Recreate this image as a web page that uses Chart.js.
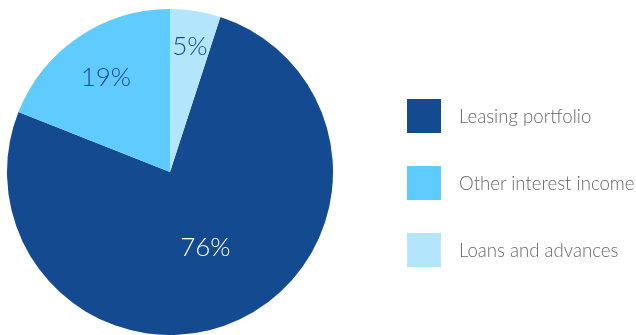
<!DOCTYPE html>
<html>
<head>
<meta charset="utf-8">
<script src="https://cdn.jsdelivr.net/npm/chart.js@4/dist/chart.umd.min.js"></script>
<style>
    html, body { margin: 0; padding: 0; background: #fff; }
    #wrap { position: relative; width: 636px; height: 335px; overflow: hidden; }
    #pieChart { position: absolute; left: 0; top: 0; }
    #legend { position: absolute; left: 407px; top: 99px; margin: 0; padding: 0; list-style: none; }
    #legend li { display: flex; align-items: center; height: 34px; margin-bottom: 33px; white-space: nowrap;
        font-family: Lato, "Noto Sans", sans-serif; font-weight: 300; font-size: 18.6px; color: #666; }
    #legend span.box { display: inline-block; width: 34px; height: 34px; margin-right: 18px; }
</style>
</head>
<body>
<div id="wrap">
    <canvas id="pieChart" width="636" height="335"></canvas>
    <ul id="legend"></ul>
</div>
<script>
document.addEventListener("DOMContentLoaded", function () {
    const categories = ["Leasing portfolio", "Other interest income", "Loans and advances"];
    const shares = [76, 19, 5];
    const sliceColors = ["#144a8f", "#5fcbff", "#b3e5fd"];
    const labelColors = ["#ffffff", "#1d4a8a", "#1d4a8a"];

    // percentage text inside each slice; thin slices get their text pushed outward
    const sliceLabels = {
        id: "sliceLabels",
        afterDatasetsDraw(chart) {
            const ctx = chart.ctx;
            const meta = chart.getDatasetMeta(0);
            ctx.save();
            ctx.font = "300 26px Lato, 'Noto Sans', sans-serif";
            ctx.textAlign = "center";
            ctx.textBaseline = "middle";
            meta.data.forEach(function (arc, i) {
                const p = arc.getProps(["x", "y", "startAngle", "endAngle", "outerRadius"], true);
                const mid = (p.startAngle + p.endAngle) / 2;
                const k = shares[i] > 50 ? 0.51 : (shares[i] > 10 ? 0.7 : 0.78);
                const r = p.outerRadius * k;
                ctx.fillStyle = labelColors[i];
                ctx.fillText(shares[i] + "%", p.x + Math.cos(mid) * r, p.y + Math.sin(mid) * r);
            });
            ctx.restore();
        }
    };

    new Chart(document.getElementById("pieChart"), {
        type: "pie",
        data: {
            labels: categories,
            datasets: [{
                data: shares,
                backgroundColor: sliceColors,
                borderWidth: 0
            }]
        },
        options: {
            responsive: false,
            animation: false,
            rotation: 18,
            layout: { padding: { top: 9, right: 296, bottom: 0, left: 0 } },
            plugins: {
                legend: { display: false },
                tooltip: { enabled: false }
            }
        },
        plugins: [sliceLabels]
    });

    // legend on the right
    const legend = document.getElementById("legend");
    categories.forEach(function (name, i) {
        const li = document.createElement("li");
        const box = document.createElement("span");
        box.className = "box";
        box.style.background = sliceColors[i];
        li.appendChild(box);
        li.appendChild(document.createTextNode(name));
        legend.appendChild(li);
    });
});
</script>
</body>
</html>
